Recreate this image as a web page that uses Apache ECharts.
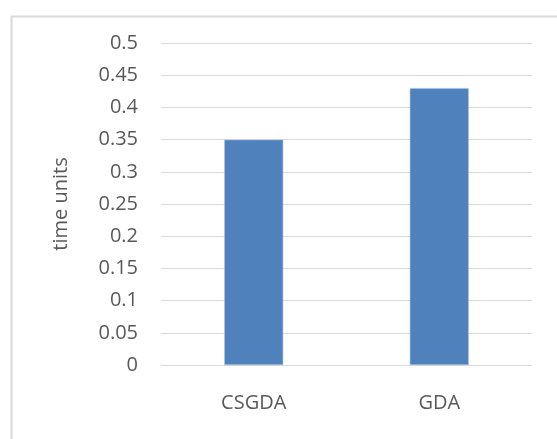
<!DOCTYPE html>
<html>
<head>
<meta charset="utf-8">
<script src="https://cdn.jsdelivr.net/npm/echarts@6/dist/echarts.min.js"></script>
<style>
  html, body { margin: 0; padding: 0; background: #fff; }
  #chart { width: 557px; height: 439px; }
</style>
</head>
<body>
<div id="chart"></div>
<script>
// Bar chart of time units per algorithm
const categories = ['CSGDA', 'GDA'];
const timeUnits = [0.35, 0.43];
const yMin = 0;
const yMax = 0.5;
const yStep = 0.05;

const chart = echarts.init(document.getElementById('chart'), null, { renderer: 'canvas' });
const textColor = '#595959';
const fontFamily = '"Open Sans", sans-serif';

chart.setOption({
  animation: false,
  backgroundColor: '#ffffff',
  graphic: [{
    type: 'rect',
    left: 9,
    top: 14,
    shape: { width: 600, height: 500 },
    style: { fill: 'none', stroke: '#d9d9d9', lineWidth: 2 },
    silent: true
  }],
  grid: { left: 161, right: 25, top: 43, bottom: 74 },
  xAxis: {
    type: 'category',
    data: categories,
    axisLine: { show: true, lineStyle: { color: '#d9d9d9', width: 1 } },
    axisTick: { show: false },
    axisLabel: { color: textColor, fontSize: 20, fontFamily: fontFamily, margin: 28 }
  },
  yAxis: {
    type: 'value',
    min: yMin,
    max: yMax,
    interval: yStep,
    name: 'time units',
    nameLocation: 'middle',
    nameGap: 90,
    nameRotate: 90,
    nameTextStyle: { color: textColor, fontSize: 20, fontFamily: fontFamily },
    axisLine: { show: false },
    axisTick: { show: false },
    splitLine: { lineStyle: { color: '#d9d9d9', width: 1 } },
    axisLabel: {
      color: textColor, fontSize: 20, fontFamily: fontFamily, margin: 23,
      formatter: function (v) { return String(parseFloat(v.toFixed(2))); }
    }
  },
  series: [{
    type: 'bar',
    data: timeUnits,
    barWidth: 59,
    itemStyle: { color: '#4f81bd', borderColor: '#a9c0e0', borderWidth: 0.6 }
  }]
});
</script>
</body>
</html>
